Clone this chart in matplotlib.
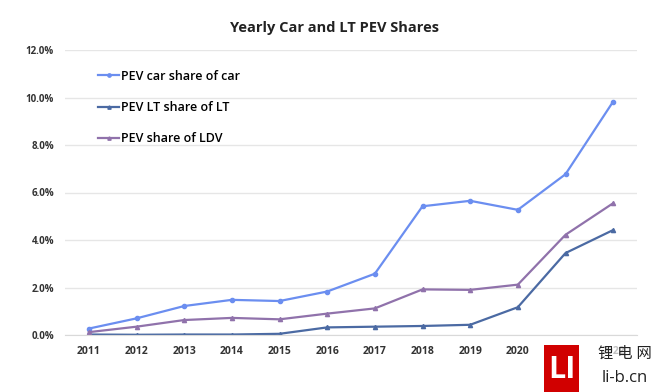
import matplotlib.pyplot as plt
from matplotlib.ticker import FuncFormatter
from matplotlib.patches import Rectangle

plt.rcParams['font.family'] = ['Open Sans', 'Noto Sans CJK SC', 'DejaVu Sans']

years = [2011, 2012, 2013, 2014, 2015, 2016, 2017, 2018, 2019, 2020, 2021, 2022]
car_share = [0.27, 0.70, 1.22, 1.48, 1.43, 1.83, 2.58, 5.42, 5.65, 5.27, 6.77, 9.83]
lt_share = [0.02, 0.01, 0.02, 0.02, 0.05, 0.32, 0.35, 0.38, 0.43, 1.17, 3.45, 4.42]
ldv_share = [0.12, 0.35, 0.63, 0.72, 0.66, 0.90, 1.12, 1.92, 1.90, 2.12, 4.22, 5.55]

fig = plt.figure(figsize=(6.6, 3.92), dpi=100)
ax = fig.add_axes([65 / 660, 1 - 335 / 392, 572 / 660, 285 / 392])

ax.plot(years, car_share, color='#6b8ef0', lw=1.6, marker='o', ms=3, label='PEV car share of car')
ax.plot(years, lt_share, color='#4b6aa3', lw=1.6, marker='^', ms=3, label='PEV LT share of LT')
ax.plot(years, ldv_share, color='#9072ab', lw=1.6, marker='^', ms=3, label='PEV share of LDV')

ax.set_ylim(0, 12)
ax.set_yticks([0, 2, 4, 6, 8, 10, 12])
ax.yaxis.set_major_formatter(FuncFormatter(lambda v, p: f'{v:.1f}%'))
ax.set_xlim(2010.5, 2022.5)
ax.set_xticks(years)
ax.grid(axis='y', color='#e6e6e6', lw=1)
ax.set_axisbelow(True)
for s in ['top', 'right', 'left']:
    ax.spines[s].set_visible(False)
ax.spines['bottom'].set_color('#d9d9d9')
ax.tick_params(axis='x', length=0, labelsize=7.5, pad=8)
ax.tick_params(axis='y', length=0, labelsize=7, pad=8)
for lab in ax.get_xticklabels() + ax.get_yticklabels():
    lab.set_fontweight('bold')
    lab.set_color('#333333')
# last two year labels sit under the watermark and show only faintly
for lab in ax.get_xticklabels()[-2:]:
    lab.set_alpha(0.3)

fig.text(334 / 660, 1 - 28 / 392, 'Yearly Car and LT PEV Shares', fontsize=10.5, fontweight='bold',
         color='#222222', ha='center', va='center')

leg = ax.legend(loc='upper left', bbox_to_anchor=(0.038, 0.97), frameon=False, fontsize=9,
                labelspacing=1.45, handlelength=1.7, handletextpad=0.15, markerscale=0.8)
for t in leg.get_texts():
    t.set_fontweight('semibold')

# watermark
fig.patches.append(Rectangle((544 / 660, 0), 35 / 660, 47 / 392, transform=fig.transFigure,
                             facecolor='#d10000', edgecolor='none', zorder=5))
fig.text(561.5 / 660, 22 / 392, 'LI', color='white', fontsize=22, fontweight='bold',
         ha='center', va='center', zorder=6)
fig.text(625 / 660, 38 / 392, '锂 电 网', fontsize=11, ha='center', va='center', color='#222222', zorder=6)
fig.text(625 / 660, 14 / 392, 'li-b.cn', fontsize=12, ha='center', va='center', color='#222222', zorder=6)

fig.savefig('out.png', dpi=100)
